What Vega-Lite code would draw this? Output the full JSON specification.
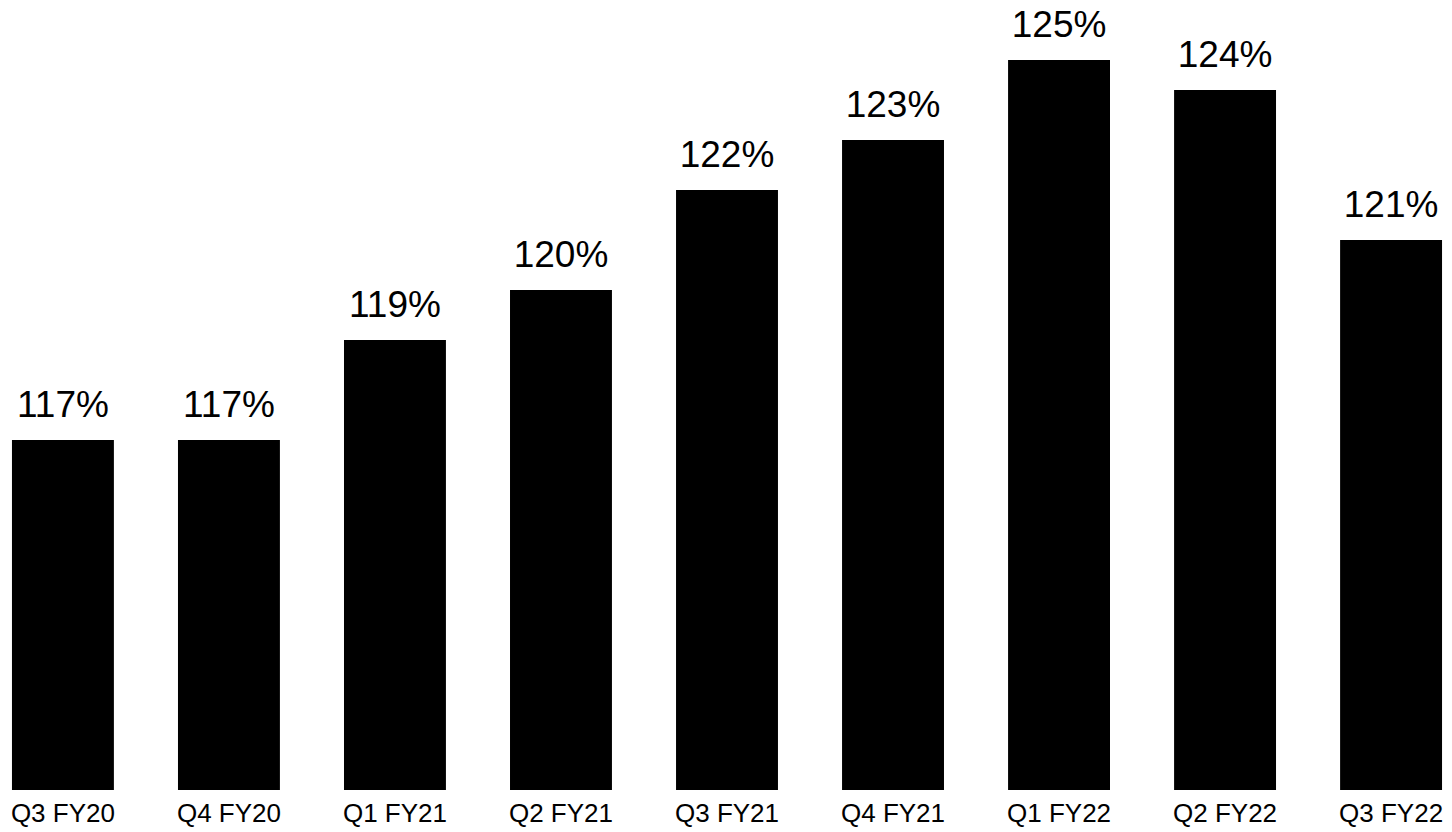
{
  "$schema": "https://vega.github.io/schema/vega-lite/v6.json",
  "width": 1450,
  "height": 790,
  "padding": {"left": 2, "top": 0, "right": 0, "bottom": 42},
  "autosize": {"type": "none"},
  "background": "white",
  "config": {"view": {"stroke": null}, "font": "Liberation Sans"},
  "data": {
    "values": [
      {"quarter": "Q3 FY20", "value": 1.17},
      {"quarter": "Q4 FY20", "value": 1.17},
      {"quarter": "Q1 FY21", "value": 1.19},
      {"quarter": "Q2 FY21", "value": 1.20},
      {"quarter": "Q3 FY21", "value": 1.22},
      {"quarter": "Q4 FY21", "value": 1.23},
      {"quarter": "Q1 FY22", "value": 1.246},
      {"quarter": "Q2 FY22", "value": 1.24},
      {"quarter": "Q3 FY22", "value": 1.21}
    ]
  },
  "encoding": {
    "x": {
      "field": "quarter",
      "type": "nominal",
      "sort": null,
      "scale": {"paddingInner": 0.386, "paddingOuter": 0.06},
      "axis": {
        "title": null,
        "labelAngle": 0,
        "domain": false,
        "ticks": false,
        "tickSize": 0,
        "labelFontSize": 26,
        "labelColor": "black",
        "labelBaseline": "top",
        "labelPadding": 10,
        "labelFont": "Liberation Sans",
        "labelOverlap": false,
        "grid": false,
        "zindex": 1
      }
    },
    "y": {
      "field": "value",
      "type": "quantitative",
      "scale": {"domain": [1.10, 1.258], "zero": false, "nice": false},
      "axis": null
    }
  },
  "layer": [
    {
      "mark": {"type": "bar", "color": "black"},
      "encoding": {"y2": {"datum": 1.10}}
    },
    {
      "mark": {"type": "text", "baseline": "alphabetic", "dy": -23, "fontSize": 37, "color": "black", "font": "Liberation Sans"},
      "encoding": {"text": {"field": "value", "type": "quantitative", "format": ".0%"}}
    }
  ]
}
